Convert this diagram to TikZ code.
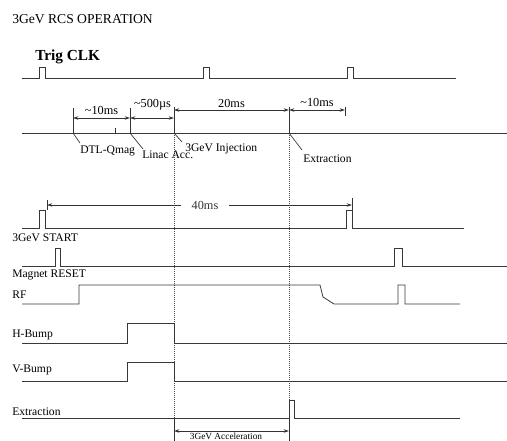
\documentclass[tikz,border=0pt]{standalone}
\usepackage{fontspec}
\setmainfont{Liberation Serif}
\usetikzlibrary{arrows.meta, calc}
\tikzset{
  % Traces and markers
  trace/.style    = { line width=0.6pt, black!78, line join=miter },
  evtick/.style   = { line width=0.6pt, black!80 },
  guide/.style    = { line width=0.5pt, densely dotted, black!70 },
  leader/.style   = { line width=0.5pt, black!80 },
  dimarrow/.style = { line width=0.55pt, black!80,
                      {Stealth[length=4pt, width=2.6pt]}-{Stealth[length=4pt, width=2.6pt]} },
  % Labels
  headlabel/.style = { font=\fontsize{10.2}{12}\selectfont, anchor=base west, inner sep=0 },
  clklabel/.style  = { font=\fontsize{11.5}{13}\selectfont\bfseries, anchor=base west, inner sep=0 },
  siglabel/.style  = { font=\fontsize{8.7}{10}\selectfont, anchor=base west, inner sep=0 },
  evlabel/.style   = { font=\fontsize{8.7}{10}\selectfont, anchor=base west, inner sep=0 },
  dimlabel/.style  = { font=\fontsize{9.2}{11}\selectfont, anchor=base, inner sep=0 },
  acclabel/.style  = { font=\fontsize{7}{8}\selectfont, anchor=base, inner sep=0 }
}

\begin{document}
\begin{tikzpicture}[x=0.75pt, y=-0.75pt]
  \useasboundingbox (0,0) rectangle (507,441);

  \node[headlabel] (title) at (12,24) {3GeV RCS OPERATION};
  \node[clklabel] (clk) at (35,61) {Trig CLK};

  % event times on the timing line
  \coordinate (qmag)   at (73,133);
  \coordinate (linac)  at (130,133);
  \coordinate (inj)    at (174,133);
  \coordinate (ext)    at (289,133);
  \coordinate (extend) at (345,110);
  \coordinate (rowA)   at (0,118);
  \coordinate (rowB)   at (0,110);

  % guides down from injection and extraction
  \draw[guide] (inj) -- (inj |- 0,418);
  \draw[guide] (ext) -- (ext |- 0,400);
  \draw[evtick] (inj |- 0,418) -- (inj |- 0,441);
  \draw[evtick] (ext |- 0,418) -- (ext |- 0,441);

  % Trig CLK
  \draw[trace] (22,78) foreach \p in {39,203,347} { -- (\p,78) -- (\p,67) -- (\p+6,67) -- (\p+6,78) } -- (456,78);

  % timing line with events
  \draw[trace] (22,133) -- (507,133);
  \draw[evtick] (qmag) -- ++(0,-25);
  \draw[evtick] (linac) -- ++(0,-25);
  \draw[evtick] (inj) -- ++(0,-26);
  \draw[evtick] (ext) -- ++(0,-26);
  \draw[evtick] (115,133) -- ++(0,-5);
  \draw[evtick] (extend) ++(0,-3) -- ++(0,9);

  \draw[dimarrow] (qmag |- rowA) -- (linac |- rowA);
  \draw[dimarrow] (linac |- rowA) -- (inj |- rowA);
  \draw[dimarrow] (inj |- rowB) -- (ext |- rowB);
  \draw[dimarrow] (ext |- rowB) -- (extend);
  \node[dimlabel] (d10a)  at (101.5,115) {\textasciitilde10ms};
  \node[dimlabel] (d500)  at (152.5,108) {\textasciitilde500µs};
  \node[dimlabel] (d20)   at (231.5,108) {20ms};
  \node[dimlabel] (d10b)  at (317,107)   {\textasciitilde10ms};

  \draw[leader] (qmag) -- (80,143);
  \node[evlabel] (lqmag) at (80,154) {DTL-Qmag};
  \draw[leader] (linac) -- (143,149);
  \node[evlabel] (llinac) at (142,159) {Linac Acc.};
  \draw[leader] (inj) -- (182,142);
  \node[evlabel] (linj) at (185,152) {3GeV Injection};
  \draw[leader] (ext) -- (302,150);
  \node[evlabel] (lext) at (303,163) {Extraction};

  % 40ms cycle
  \draw[evtick] (47,200) -- (47,210);
  \draw[evtick] (352,198) -- (352,210);
  \draw[dimarrow] (47,205) -- node[pos=0.518, fill=white, inner xsep=8pt, inner ysep=1pt,
    font=\fontsize{9.2}{11}\selectfont] (d40) {40ms} (352,205);

  % 3GeV START
  \node[siglabel] (lstart) at (12,242) {3GeV START};
  \draw[trace] (22,228) foreach \p in {39,346} { -- (\p,228) -- (\p,210) -- (\p+6,210) -- (\p+6,228) } -- (464,228);

  % Magnet RESET
  \node[siglabel] (lreset) at (12,278) {Magnet RESET};
  \draw[trace] (22,266) foreach \a/\b in {55/60,394/402} { -- (\a,266) -- (\a,248) -- (\b,248) -- (\b,266) } -- (507,266);

  % RF
  \node[siglabel] (lrf) at (12,299) {RF};
  \draw[trace] (22,304) -- (79,304) -- (79,285) -- (320,285) -- (323,297) -- (334,304)
    -- (398,304) -- (398,285) -- (405,285) -- (405,304) -- (460,304);

  % H-Bump
  \node[siglabel] (lhb) at (12,338) {H-Bump};
  \draw[trace] (22,343) -- (127,343) -- (127,323) -- (174,323) -- (174,343) -- (507,343);

  % V-Bump
  \node[siglabel] (lvb) at (12,373) {V-Bump};
  \draw[trace] (22,381) -- (127,381) -- (127,362) -- (174,362) -- (174,381) -- (507,381);

  % Extraction
  \node[siglabel] (lextr) at (12,416) {Extraction};
  \draw[trace] (22,418) -- (289,418) -- (289,400) -- (294,400) -- (294,418) -- (460,418);

  % acceleration period
  \draw[dimarrow] (inj |- 0,431) -- (ext |- 0,431);
  \node[acclabel] (lacc) at (226,439.8) {3GeV Acceleration};

\end{tikzpicture}
\end{document}
